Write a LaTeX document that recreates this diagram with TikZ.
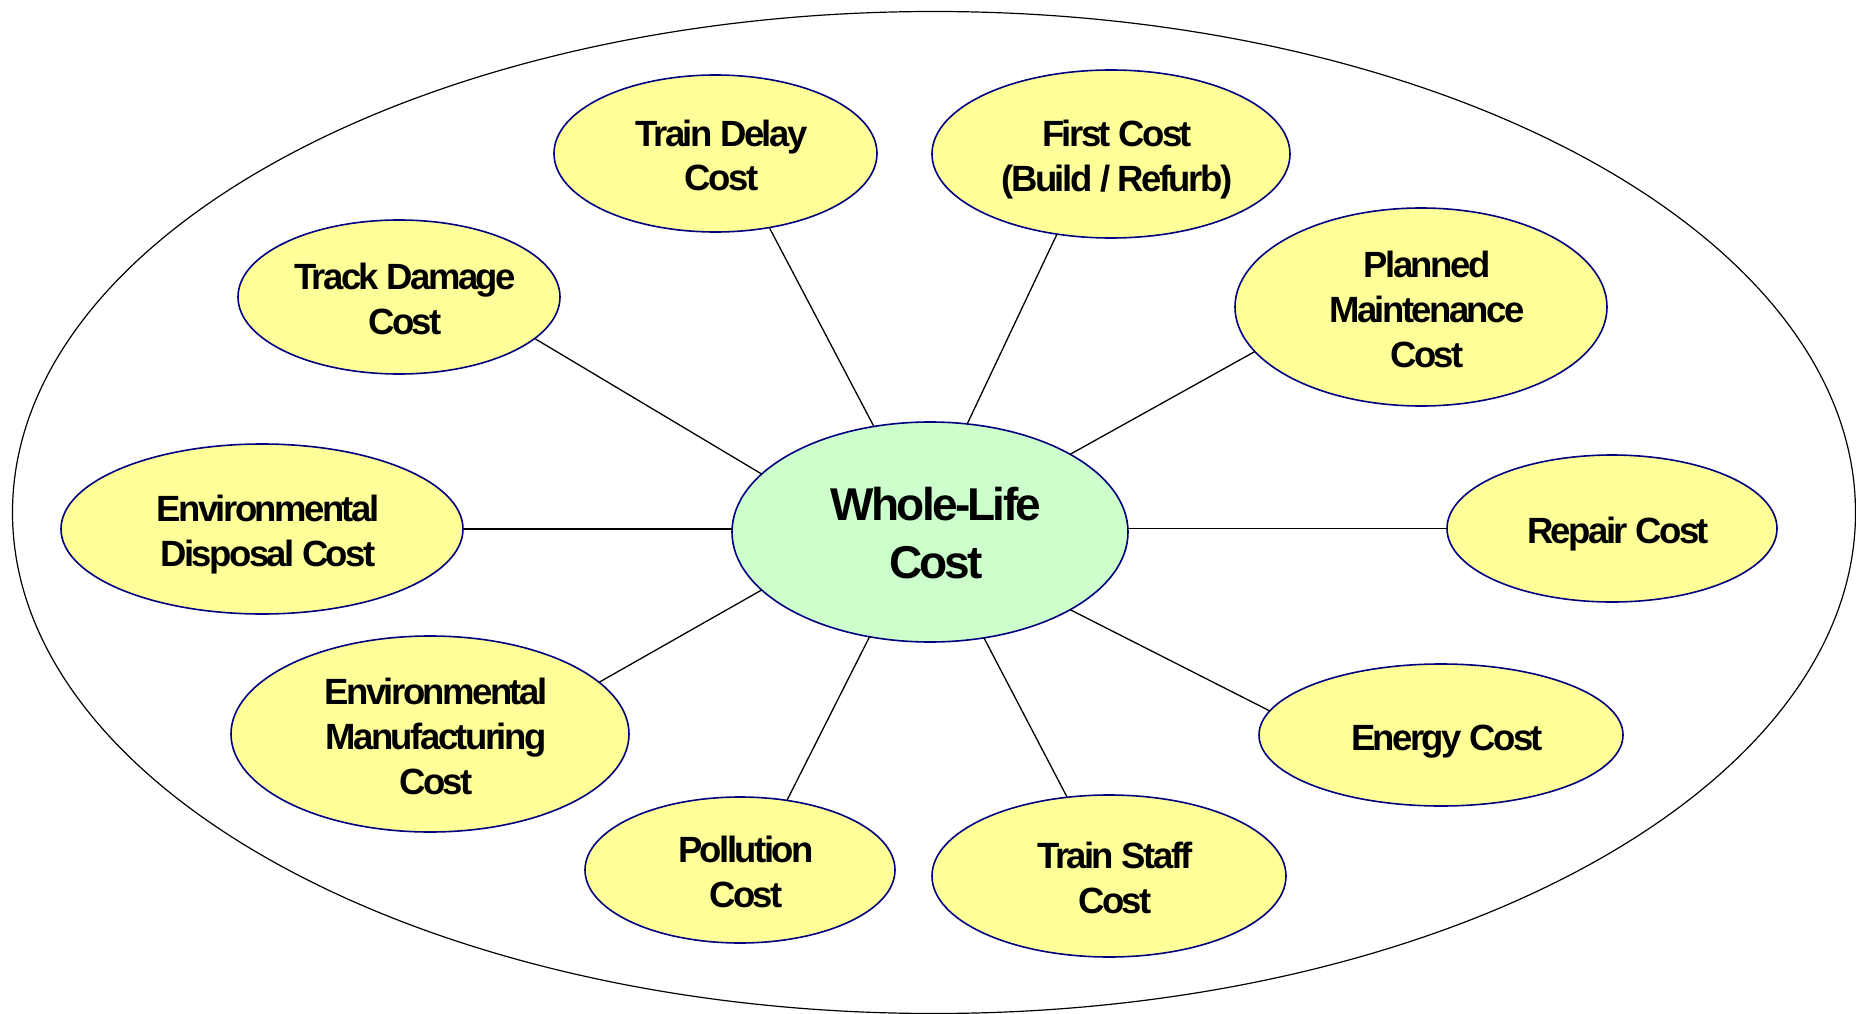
\documentclass[tikz,border=0pt]{standalone}
\usepackage{fontspec}
\setmainfont{Liberation Sans}
\newfontfamily\lblfont[LetterSpace=-7]{Liberation Sans}
\newfontfamily\hubfont[LetterSpace=-6]{Liberation Sans}
\usetikzlibrary{shapes.geometric}
\definecolor{bubfill}{HTML}{FFFF99}
\definecolor{hubfill}{HTML}{CCFFCC}
\definecolor{bubline}{HTML}{000080}
\newcommand\lbltext[1]{\raisebox{0pt}[\dimexpr\height+6pt\relax][\dimexpr\depth-6pt\relax]{\hspace*{6pt}\begin{tabular}{@{}c@{}}#1\end{tabular}\hspace*{-6pt}}}
\tikzset{
  bub/.style={ellipse, draw=bubline, line width=1.6pt, fill=bubfill, inner sep=0pt, outer sep=0pt,
    font=\lblfont\bfseries\fontsize{36.5}{45}\selectfont},
  hub/.style={ellipse, draw=bubline, line width=1.6pt, fill=hubfill, inner sep=0pt, outer sep=0pt,
    font=\hubfont\bfseries\fontsize{46}{58}\selectfont},
  conn/.style={draw=black, line width=1.3pt}
}
\begin{document}
\begin{tikzpicture}[x=1pt,y=-1pt]
\useasboundingbox (0,0) rectangle (1856,1014);
\draw[line width=1.2pt] (934,512.5) ellipse [x radius=921.5, y radius=501];

\node[hub, minimum width=396, minimum height=220] (wl) at (930,532) {\lbltext{Whole-Life\\Cost}};

\node[bub, minimum width=323, minimum height=157] (td) at (715.5,153.5) {\lbltext{Train Delay\\Cost}};
\node[bub, minimum width=358, minimum height=168] (fc) at (1111,154) {\lbltext{First Cost\\(Build / Refurb)}};
\node[bub, minimum width=322, minimum height=154] (tk) at (399,297) {\lbltext{Track Damage\\Cost}};
\node[bub, minimum width=372, minimum height=198] (pm) at (1421,307) {\lbltext{Planned\\Maintenance\\Cost}};
\node[bub, minimum width=402, minimum height=170] (ed) at (262,529) {\lbltext{Environmental\\Disposal Cost}};
\node[bub, minimum width=330, minimum height=147] (rp) at (1612,528.5) {\lbltext{Repair Cost}};
\node[bub, minimum width=398, minimum height=196] (em) at (430,734) {\lbltext{Environmental\\Manufacturing\\Cost}};
\node[bub, minimum width=364, minimum height=142] (en) at (1441,735) {\lbltext{Energy Cost}};
\node[bub, minimum width=310, minimum height=146] (po) at (740,870) {\lbltext{Pollution\\Cost}};
\node[bub, minimum width=354, minimum height=162] (ts) at (1109,876) {\lbltext{Train Staff\\Cost}};

\draw[conn] (td.306.3) -- (wl.118.9);
\draw[conn] (fc.236) -- (wl.71);
\draw[conn] (pm.195.9) -- (wl.29.9);
\draw[conn] (tk.343.6) -- (wl.161);
\draw[conn] (ed.east) -- (wl.west |- ed.east);
\draw[conn] (rp.west) -- (wl.east |- rp.west);
\draw[conn] (em.17.7) -- (wl.199);
\draw[conn] (en.172) -- (wl.331.7);
\draw[conn] (po.56.7) -- (wl.240.9);
\draw[conn] (ts.118.9) -- (wl.297.4);
\end{tikzpicture}
\end{document}
